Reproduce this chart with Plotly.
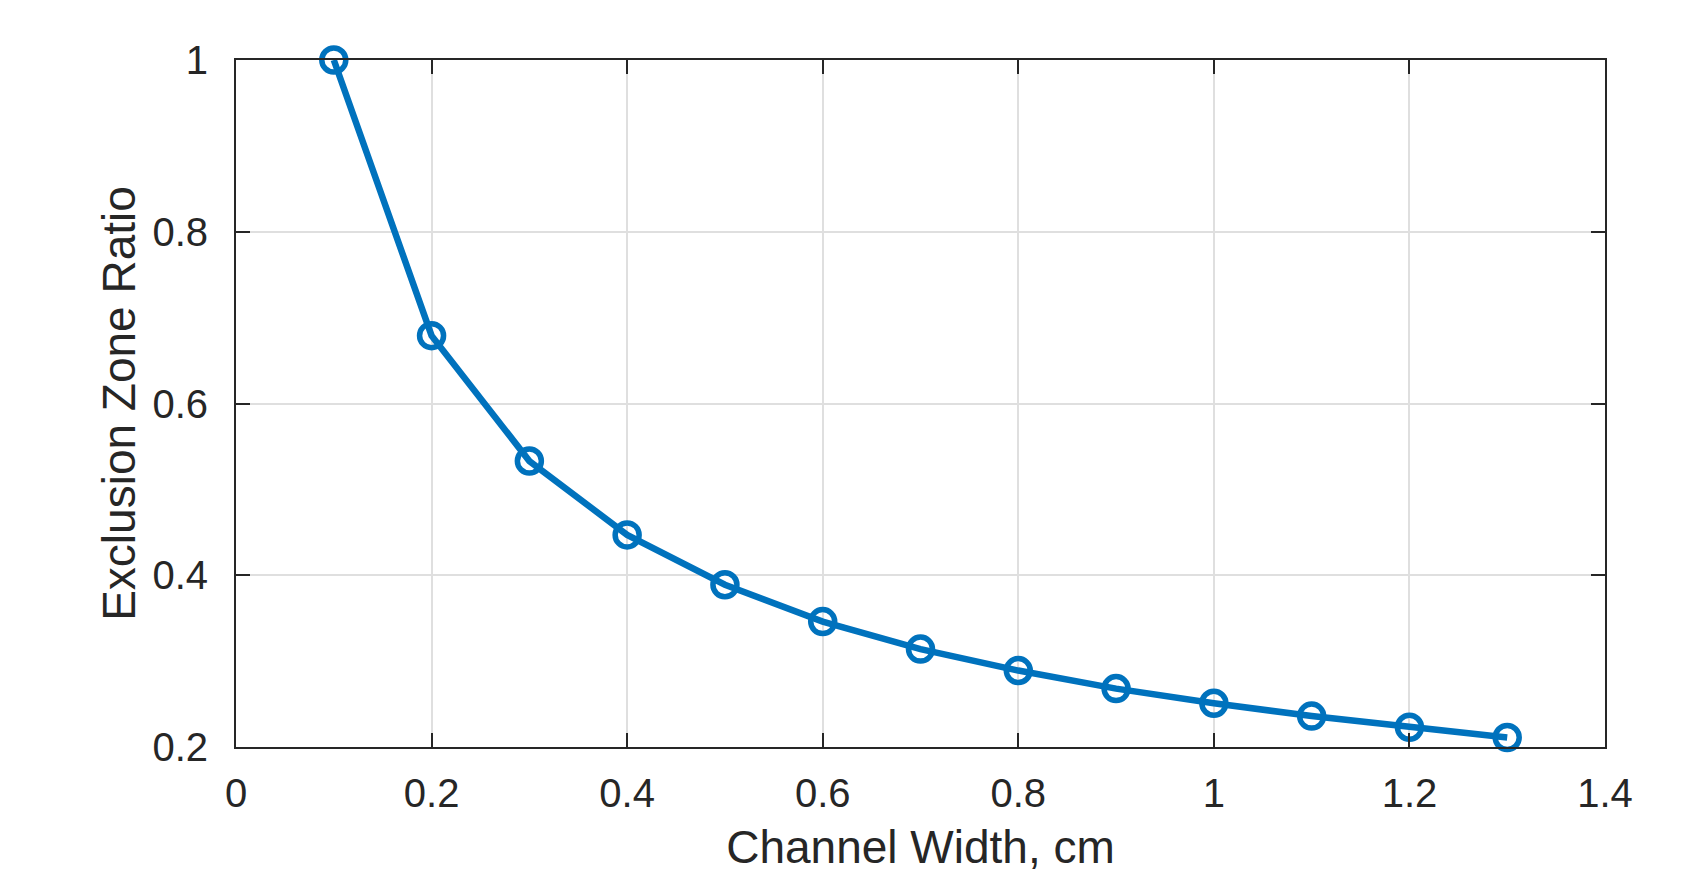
import plotly.graph_objects as go

channel_width = [0.1, 0.2, 0.3, 0.4, 0.5, 0.6, 0.7, 0.8, 0.9, 1.0, 1.1, 1.2, 1.3]
exclusion_ratio = [1.0, 0.679, 0.533, 0.447, 0.389, 0.346, 0.314, 0.289, 0.268, 0.251, 0.236, 0.223, 0.211]

x_ticks = [0, 0.2, 0.4, 0.6, 0.8, 1.0, 1.2, 1.4]
x_tick_labels = ["0", "0.2", "0.4", "0.6", "0.8", "1", "1.2", "1.4"]
y_ticks = [0.2, 0.4, 0.6, 0.8, 1.0]
y_tick_labels = ["0.2", "0.4", "0.6", "0.8", "1"]

blue = "#0072BD"
axis_col = "#262626"
font_family = "Liberation Sans, Arial, sans-serif"

fig = go.Figure()
fig.add_trace(go.Scatter(
    x=channel_width, y=exclusion_ratio, mode="lines+markers",
    line=dict(color=blue, width=6.5),
    marker=dict(symbol="circle-open", size=24, color=blue, line=dict(width=5.5, color=blue)),
    cliponaxis=False, showlegend=False,
))

axis_common = dict(
    showline=True, linecolor=axis_col, linewidth=2, mirror="ticks",
    ticks="inside", ticklen=14, tickwidth=2, tickcolor=axis_col,
    showgrid=True, gridcolor="#dfdfdf", gridwidth=1.5, zeroline=False,
    tickfont=dict(family=font_family, size=40, color=axis_col),
    automargin=False,
)

fig.update_xaxes(
    range=[0, 1.4], tickmode="array", tickvals=x_ticks, ticktext=x_tick_labels,
    title=dict(text="Channel Width, cm", font=dict(family=font_family, size=46, color=axis_col), standoff=19),
    ticklabelstandoff=10,
    **axis_common,
)
fig.update_yaxes(
    range=[0.2, 1.0], tickmode="array", tickvals=y_ticks, ticktext=y_tick_labels,
    title=dict(text="Exclusion Zone Ratio", font=dict(family=font_family, size=46, color=axis_col), standoff=2),
    ticklabelstandoff=18,
    **axis_common,
)

fig.update_layout(
    width=1700, height=865,
    margin=dict(l=228, r=103, t=52, b=126),
    plot_bgcolor="white", paper_bgcolor="white",
    font=dict(family=font_family, color=axis_col),
)

fig.write_html("out.html")
